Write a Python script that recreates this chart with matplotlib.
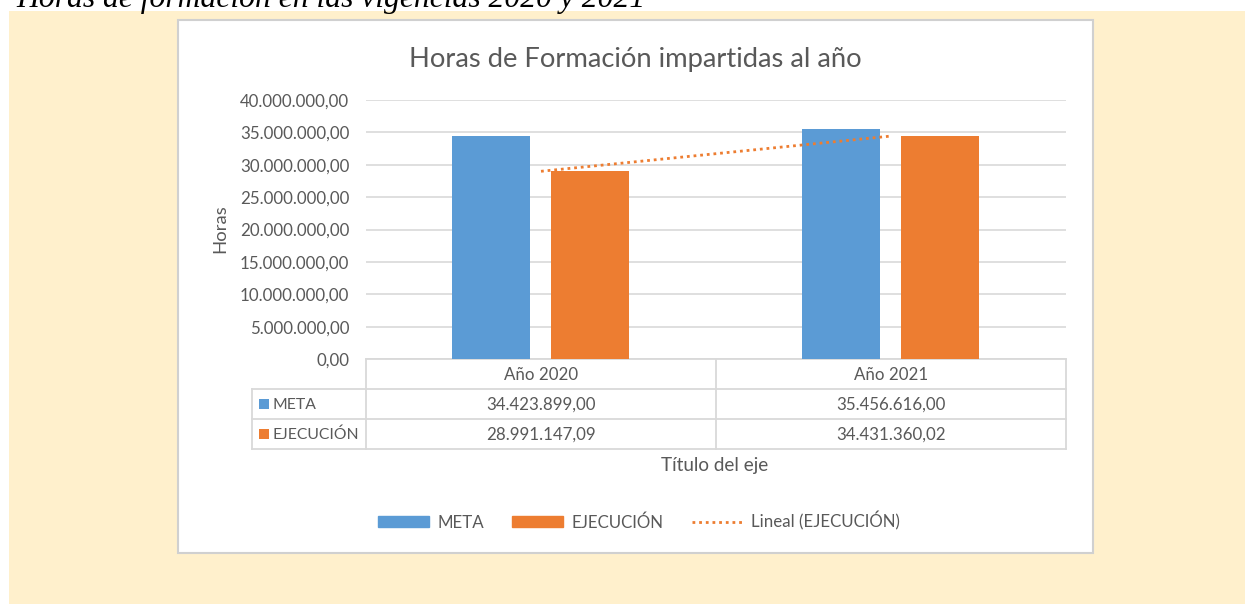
import matplotlib.pyplot as plt
import matplotlib.patches as mpatches
from matplotlib.lines import Line2D

plt.rcParams['font.family'] = ['Lato', 'DejaVu Sans']

categories = ["Año 2020", "Año 2021"]
meta = [34423899.00, 35456616.00]
ejecucion = [28991147.09, 34431360.02]
y_ticks = [0, 5e6, 10e6, 15e6, 20e6, 25e6, 30e6, 35e6, 40e6]

BLUE = "#5B9BD5"
ORANGE = "#ED7D31"
GRAY = "#595959"
GRID = "#D9D9D9"
CREAM = "#FFF0CC"
FS = 12.2


def es_fmt(v):
    s = f"{v:,.2f}"
    return s.replace(",", "X").replace(".", ",").replace("X", ".")


W, H = 1245, 604
fig = plt.figure(figsize=(W / 100, H / 100), dpi=100)

# background layer in pixel coordinates
bg = fig.add_axes([0, 0, 1, 1])
bg.set_xlim(0, W)
bg.set_ylim(H, 0)
bg.axis("off")
bg.add_patch(mpatches.Rectangle((9, 11), W - 9, H - 11, color=CREAM, lw=0))
bg.add_patch(mpatches.Rectangle((178, 20), 915, 533, facecolor="white",
                                edgecolor="#D0D0D0", lw=1.5))
bg.text(16, 7, "Horas de formación en las vigencias 2020 y 2021",
        family="Liberation Serif", style="italic", fontsize=22.8,
        color="black", ha="left", va="baseline")

# main plot area
x0, x1, ytop, ybot = 366, 1066, 100, 359
ax = fig.add_axes([x0 / W, 1 - ybot / H, (x1 - x0) / W, (ybot - ytop) / H])
ax.patch.set_alpha(0)
ax.set_xlim(-0.5, 1.5)
ax.set_ylim(0, 40e6)
xs = range(len(categories))
bw = 0.223
ax.bar([x - 0.143 for x in xs], meta, bw, color=BLUE, zorder=3)
ax.bar([x + 0.141 for x in xs], ejecucion, bw, color=ORANGE, zorder=3)
ax.plot(list(xs), ejecucion, color=ORANGE, lw=2, ls=(0, (1, 1.4)), zorder=4)
ax.set_yticks(y_ticks)
ax.set_yticklabels([es_fmt(t) for t in y_ticks])
ax.tick_params(axis="y", length=0, pad=12, labelsize=FS, labelcolor=GRAY)
ax.set_xticks([])
ax.grid(axis="y", color=GRID, lw=1.2, zorder=0)
for s in ax.spines.values():
    s.set_visible(False)

bg.text(635, 59, "Horas de Formación impartidas al año", fontsize=19.7,
        color=GRAY, ha="center", va="center")
bg.text(220, 229, "Horas", fontsize=13.3, color=GRAY, rotation=90,
        ha="center", va="center")

# data table under the axis
rows = [359, 389, 419, 449]
cols = [252, 366, 716, 1066]
cw = (x1 - x0) / len(categories)
lk = dict(color=GRID, lw=1.3)
bg.plot([x0, x1], [rows[0], rows[0]], **lk)
for r in rows[1:]:
    bg.plot([cols[0], x1], [r, r], **lk)
bg.plot([cols[0], cols[0]], [rows[1], rows[3]], **lk)
for i in range(len(categories) + 1):
    cx = x0 + i * cw
    bg.plot([cx, cx], [rows[0], rows[3]], **lk)
for i, cat in enumerate(categories):
    cx = x0 + (i + 0.5) * cw
    bg.text(cx, 375, cat, fontsize=FS, color=GRAY, ha="center", va="center")
    bg.text(cx, 405, es_fmt(meta[i]), fontsize=FS, color=GRAY,
            ha="center", va="center")
    bg.text(cx, 435, es_fmt(ejecucion[i]), fontsize=FS, color=GRAY,
            ha="center", va="center")
for yc, name, c in [(404, "META", BLUE), (434, "EJECUCIÓN", ORANGE)]:
    bg.add_patch(mpatches.Rectangle((259, yc - 5), 10, 10, color=c, lw=0))
    bg.text(272, yc + 1, name, fontsize=11.3, color=GRAY, ha="left",
            va="center")

bg.text(715, 466, "Título del eje", fontsize=13.6, color=GRAY,
        ha="center", va="center")

# legend
handles = [
    mpatches.Patch(color=BLUE, label="META"),
    mpatches.Patch(color=ORANGE, label="EJECUCIÓN"),
    Line2D([], [], color=ORANGE, lw=2, ls=(0, (1, 1.4)),
           label="Lineal (EJECUCIÓN)"),
]
fig.legend(handles=handles, loc="center", bbox_to_anchor=(639 / W, 1 - 521 / H),
           ncol=3, frameon=False, fontsize=FS, labelcolor=GRAY,
           handlelength=3.0, handleheight=0.6, columnspacing=1.7,
           handletextpad=0.47)

fig.savefig("out.png", dpi=100)
